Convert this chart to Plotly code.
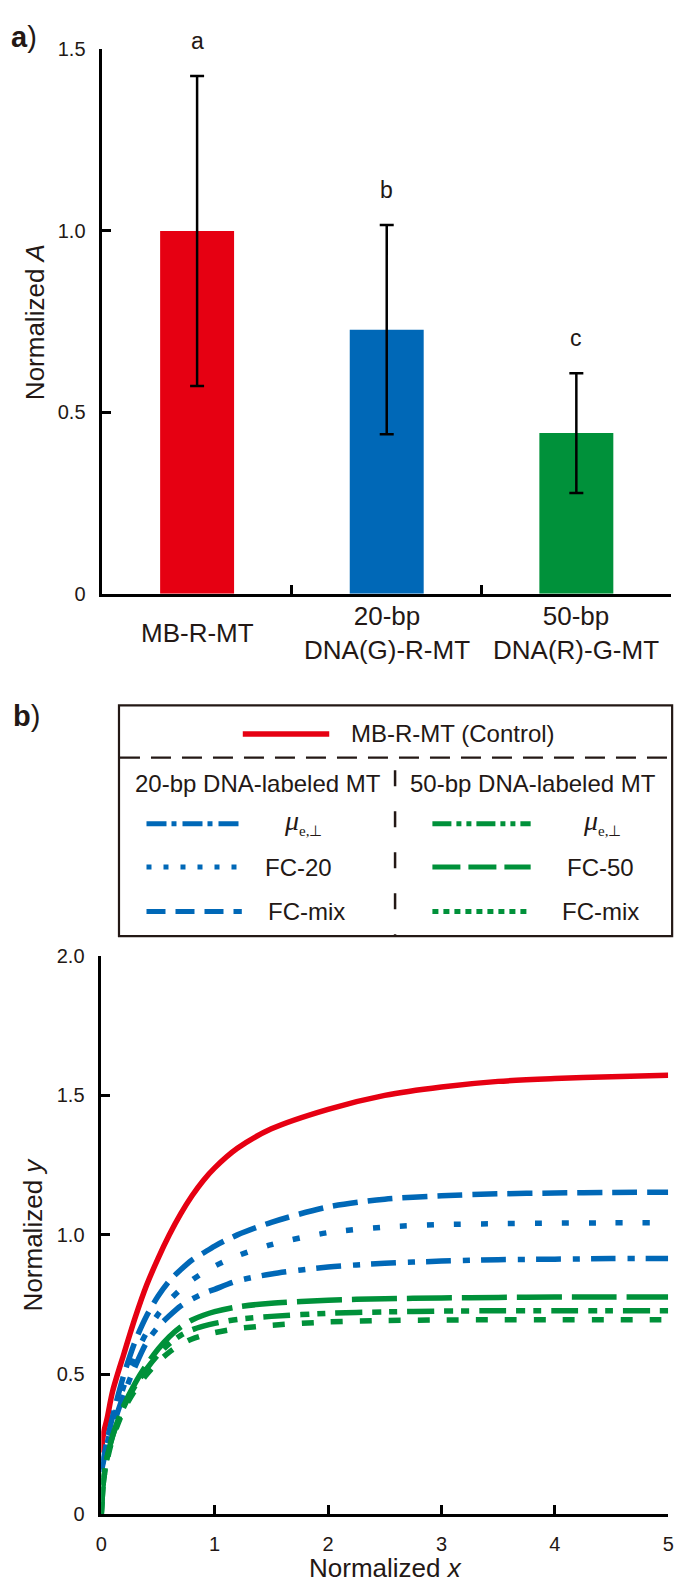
import plotly.graph_objects as go

W, H = 686, 1594

# ---------------- data: panel a ----------------
categories = ["MB-R-MT", "20-bp DNA(G)-R-MT", "50-bp DNA(R)-G-MT"]
cat_labels = ["MB-R-MT", "20-bp<br>DNA(G)-R-MT", "50-bp<br>DNA(R)-G-MT"]
bar_values = [1.0, 0.728, 0.443]
bar_errors = [0.427, 0.288, 0.165]
bar_colors = ["#E60012", "#0068B7", "#00913A"]
sig_letters = ["a", "b", "c"]
a_yticks = [0, 0.5, 1.0, 1.5]
a_yticktext = ["0", "0.5", "1.0", "1.5"]

# ---------------- data: panel b ----------------
x_norm = [0, 0.02, 0.05, 0.1, 0.2, 0.3, 0.4, 0.5, 0.6, 0.7, 0.8, 0.9, 1.0, 1.2, 1.5,
          2.0, 2.5, 3.0, 3.5, 4.0, 4.5, 5.0]
y_control = [0.22, 0.29, 0.34, 0.44, 0.575, 0.705, 0.82, 0.915, 1.0, 1.075, 1.14, 1.195,
             1.24, 1.31, 1.38, 1.45, 1.50, 1.53, 1.55, 1.56, 1.567, 1.572]
y20_mu = [0.15, 0.19, 0.24, 0.31, 0.43, 0.53, 0.615, 0.67, 0.71, 0.745, 0.77, 0.79, 0.805,
          0.835, 0.86, 0.885, 0.898, 0.906, 0.911, 0.913, 0.915, 0.915]
y20_fc20 = [0.16, 0.20, 0.25, 0.33, 0.46, 0.57, 0.65, 0.715, 0.765, 0.805, 0.838, 0.865,
            0.888, 0.925, 0.965, 1.008, 1.028, 1.037, 1.04, 1.042, 1.043, 1.043]
y20_fcmix = [0.16, 0.20, 0.26, 0.35, 0.50, 0.62, 0.71, 0.78, 0.835, 0.875, 0.91, 0.935,
             0.96, 1.0, 1.045, 1.10, 1.128, 1.14, 1.147, 1.15, 1.152, 1.153]
y50_mu = [0.0, 0.12, 0.20, 0.28, 0.385, 0.46, 0.52, 0.57, 0.61, 0.64, 0.66, 0.673, 0.683,
          0.697, 0.708, 0.719, 0.724, 0.727, 0.728, 0.728, 0.728, 0.728]
y50_fc50 = [0.0, 0.12, 0.20, 0.28, 0.39, 0.47, 0.535, 0.59, 0.635, 0.67, 0.695, 0.712,
            0.725, 0.742, 0.755, 0.766, 0.771, 0.774, 0.776, 0.777, 0.777, 0.777]
y50_fcmix = [0.0, 0.12, 0.19, 0.27, 0.375, 0.445, 0.50, 0.545, 0.58, 0.607, 0.627, 0.64,
             0.65, 0.664, 0.676, 0.688, 0.693, 0.695, 0.696, 0.696, 0.696, 0.696]
b_xticks = [0, 1, 2, 3, 4, 5]
b_yticks = [0, 0.5, 1.0, 1.5, 2.0]
b_yticktext = ["0", "0.5", "1.0", "1.5", "2.0"]

RED, BLUE, GREEN = "#E60012", "#0068B7", "#00913A"
FONT = "Liberation Sans, Arial, sans-serif"
SERIF = "Liberation Serif, Times New Roman, serif"
INK = "#231815"

A_RANGE = [0, 1.5]
A_DOM_PX = (591, 39)


def px(x):
    return x / W


def py(y):
    return 1 - y / H


def a_to_paper(v):
    d0, d1 = py(A_DOM_PX[0]), py(A_DOM_PX[1])
    return d0 + (v - A_RANGE[0]) / (A_RANGE[1] - A_RANGE[0]) * (d1 - d0)


curves = [
    ("MB-R-MT (Control)", y_control, RED, "solid"),
    ("20-bp FC-mix", y20_fcmix, BLUE, "25px,10px"),
    ("20-bp FC-20", y20_fc20, BLUE, "7px,20px"),
    ("20-bp mu", y20_mu, BLUE, "25px,12px,7px,11px"),
    ("50-bp FC-50", y50_fc50, GREEN, "45px,10px"),
    ("50-bp mu", y50_mu, GREEN, "27px,10px,9px,8px,8px,10px"),
    ("50-bp FC-mix", y50_fcmix, GREEN, "12px,17px"),
]

fig = go.Figure()

fig.add_trace(go.Bar(
    x=categories, y=bar_values, marker=dict(color=bar_colors, line=dict(width=0)),
    width=0.39,
    error_y=dict(type="data", array=bar_errors, visible=True, color="black",
                 thickness=2.5, width=7),
    xaxis="x", yaxis="y", showlegend=False,
))

for name, ys, color, dash in curves:
    fig.add_trace(go.Scatter(
        x=x_norm, y=ys, mode="lines", name=name,
        line=dict(color=color, width=5.5, dash=dash, shape="spline", smoothing=0.8),
        xaxis="x2", yaxis="y2", showlegend=False,
    ))

axis_common = dict(showline=True, linecolor="black", linewidth=2.5, ticks="inside",
                   tickcolor="black", tickwidth=2.5, ticklen=9, showgrid=False,
                   zeroline=False, tickfont=dict(family=FONT, size=20, color=INK))

fig.update_layout(
    width=W, height=H, margin=dict(l=0, r=0, t=0, b=0),
    paper_bgcolor="white", plot_bgcolor="white",
    font=dict(family=FONT, color=INK),
    xaxis=dict(domain=[px(98), px(677)], anchor="y", type="category",
               tickson="boundaries", showticklabels=False,
               range=[-0.5, 2.5], **axis_common),
    yaxis=dict(domain=[py(A_DOM_PX[0]), py(A_DOM_PX[1])], anchor="x", range=A_RANGE,
               tickvals=a_yticks, ticktext=a_yticktext, ticklabelstandoff=10,
               **axis_common),
    xaxis2=dict(domain=[px(97), px(674)], anchor="y2", range=[0, 5],
                tickvals=b_xticks, ticklabelstandoff=10, **axis_common),
    yaxis2=dict(domain=[py(1524), py(958)], anchor="x2", range=[0, 2],
                tickvals=b_yticks, ticktext=b_yticktext, ticklabelstandoff=10,
                **axis_common),
)

ann = []
# panel labels
ann.append(dict(x=px(3), y=py(26), xref="paper", yref="paper", xanchor="left",
                yanchor="middle", showarrow=False, text="<b>a</b>)",
                font=dict(family=FONT, size=29, color=INK)))
ann.append(dict(x=px(5), y=py(715), xref="paper", yref="paper", xanchor="left",
                yanchor="middle", showarrow=False, text="<b>b</b>)",
                font=dict(family=FONT, size=29, color=INK)))
# category labels
for c, lab in zip(categories, cat_labels):
    ann.append(dict(x=c, y=py(631), xref="x", yref="paper", xanchor="center",
                    yanchor="middle", showarrow=False, text=lab,
                    font=dict(family=FONT, size=26, color=INK)))
# significance letters (placed above each error bar through the panel-a scale)
for c, v, e, l in zip(categories, bar_values, bar_errors, sig_letters):
    ann.append(dict(x=c, y=a_to_paper(v + e + 0.097), xref="x", yref="paper",
                    xanchor="center", yanchor="middle", showarrow=False, text=l,
                    font=dict(family=FONT, size=23, color=INK)))
# axis titles
ann.append(dict(x=px(29), y=py(315), xref="paper", yref="paper", textangle=-90,
                xanchor="center", yanchor="middle", showarrow=False,
                text="Normalized <i>A</i>", font=dict(family=FONT, size=26, color=INK)))
ann.append(dict(x=px(27), y=py(1241), xref="paper", yref="paper", textangle=-90,
                xanchor="center", yanchor="middle", showarrow=False,
                text="Normalized <i>y</i>", font=dict(family=FONT, size=26, color=INK)))
ann.append(dict(x=px(386), y=py(1579), xref="paper", yref="paper",
                xanchor="center", yanchor="middle", showarrow=False,
                text="Normalized <i>x</i>", font=dict(family=FONT, size=26, color=INK)))

# legend box content
ann.append(dict(x=px(349), y=py(733), xref="paper", yref="paper", xanchor="left",
                yanchor="middle", showarrow=False, text="MB-R-MT (Control)",
                font=dict(family=FONT, size=24, color=INK)))
ann.append(dict(x=px(256), y=py(783), xref="paper", yref="paper", xanchor="center",
                yanchor="middle", showarrow=False, text="20-bp DNA-labeled MT",
                font=dict(family=FONT, size=24, color=INK)))
ann.append(dict(x=px(536), y=py(783), xref="paper", yref="paper", xanchor="center",
                yanchor="middle", showarrow=False, text="50-bp DNA-labeled MT",
                font=dict(family=FONT, size=24, color=INK)))

mu_text = '<i>μ</i><sub><span style="font-size:15px">e,⊥</span></sub>'
rows = [
    (824, "20px,5px,5px,6px", mu_text, "19px,5px,5px,5px,5px,5px", mu_text, True),
    (868, "5px,12px", "FC-20", "28px,8px", "FC-50", False),
    (913, "19px,10px", "FC-mix", "6px,5px", "FC-mix", False),
]
shapes = []
for yy, bdash, blab, gdash, glab, is_mu in rows:
    shapes.append(dict(type="line", xref="paper", yref="paper", x0=px(143), x1=px(240),
                       y0=py(yy), y1=py(yy), line=dict(color=BLUE, width=5, dash=bdash)))
    shapes.append(dict(type="line", xref="paper", yref="paper", x0=px(434), x1=px(534),
                       y0=py(yy), y1=py(yy), line=dict(color=GREEN, width=5, dash=gdash)))
    fam = SERIF if is_mu else FONT
    size = 28 if is_mu else 24
    ytxt = yy - 2 if is_mu else yy
    ann.append(dict(x=px(302 if is_mu else (298 if blab == "FC-20" else 306)), y=py(ytxt),
                    xref="paper", yref="paper", xanchor="center", yanchor="middle",
                    showarrow=False, text=blab, font=dict(family=fam, size=size, color=INK)))
    ann.append(dict(x=px(607 if is_mu else 605), y=py(ytxt), xref="paper", yref="paper",
                    xanchor="center", yanchor="middle", showarrow=False, text=glab,
                    font=dict(family=fam, size=size, color=INK)))

shapes.append(dict(type="rect", xref="paper", yref="paper", x0=px(115), x1=px(678),
                   y0=py(938), y1=py(704), line=dict(color=INK, width=2.2)))
shapes.append(dict(type="line", xref="paper", yref="paper", x0=px(241), x1=px(329),
                   y0=py(733), y1=py(733), line=dict(color=RED, width=5.5)))
shapes.append(dict(type="line", xref="paper", yref="paper", x0=px(116), x1=px(678),
                   y0=py(757), y1=py(757), line=dict(color=INK, width=2.2, dash="20px,11px")))
shapes.append(dict(type="line", xref="paper", yref="paper", x0=px(396), x1=px(396),
                   y0=py(770), y1=py(938), line=dict(color=INK, width=2.5, dash="16px,25px")))

fig.update_layout(annotations=ann, shapes=shapes)

fig.write_html("out.html", config={"displayModeBar": False},
               post_script="document.body.style.margin='0';")
